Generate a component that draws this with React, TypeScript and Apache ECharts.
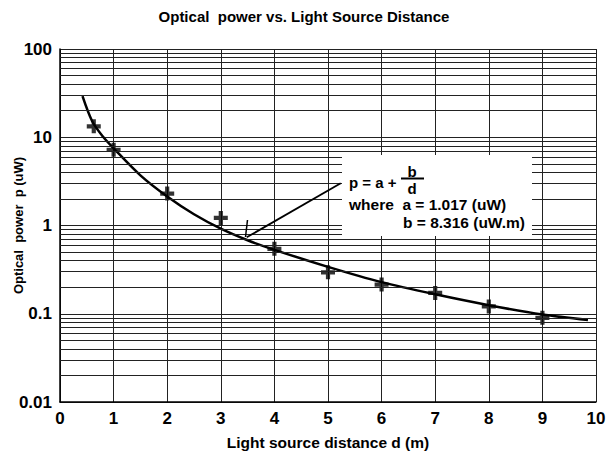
import React, { useEffect, useRef } from "react";
import * as echarts from "echarts";

const titleText = "Optical  power vs. Light Source Distance";
const xAxisName = "Light source distance d (m)";
const yAxisName = "Optical  power  p (uW)";

const measuredD = [0.63, 1.0, 2.0, 3.0, 4.0, 5.0, 6.0, 7.0, 8.0, 9.0];
const measuredP = [13.3, 7.2, 2.3, 1.22, 0.544, 0.295, 0.214, 0.172, 0.121, 0.09];

const curveD = [0.42, 0.6, 0.8, 1.0, 1.5, 2.0, 2.5, 3.0, 3.5, 4.0, 5.0, 6.0, 7.0, 8.0, 9.0, 9.85];
const curveP = [29.2, 15.2, 10.2, 7.5, 3.7, 2.13, 1.34, 0.92, 0.68, 0.53, 0.34, 0.228, 0.166, 0.125, 0.098, 0.085];

const minorValues = [
  0.02, 0.03, 0.04, 0.05, 0.06, 0.07, 0.08, 0.09,
  0.2, 0.3, 0.4, 0.5, 0.6, 0.7, 0.8, 0.9,
  2, 3, 4, 5, 6, 7, 8, 9,
  20, 30, 40, 50, 60, 70, 80, 90,
];

const FONT = "Liberation Sans, Arial, sans-serif";
const PLUS = "path://M3.5,0h3v3.5h3.5v3h-3.5v3.5h-3v-3.5h-3.5v-3h3.5z";

export default function App() {
  const ref = useRef<HTMLDivElement>(null);
  useEffect(() => {
    if (!ref.current) return;
    const chart = echarts.init(ref.current, null, { renderer: "svg" });
    chart.setOption({
      animation: false,
      backgroundColor: "#fff",
      title: {
        text: titleText,
        left: "center",
        top: 4,
        textStyle: { fontFamily: FONT, fontSize: 15, fontWeight: "bold", color: "#000" },
      },
      grid: { left: 60, right: 12, top: 49, bottom: 52, containLabel: false, outerBoundsMode: "none" },
      xAxis: {
        type: "value",
        min: 0,
        max: 10,
        interval: 1,
        name: xAxisName,
        nameLocation: "middle",
        nameGap: 32,
        nameMoveOverlap: false,
        nameTextStyle: { fontFamily: FONT, fontSize: 15.5, fontWeight: "bold", color: "#000" },
        axisLine: { lineStyle: { color: "#000", width: 1.5 } },
        axisTick: { show: false },
        axisLabel: { fontFamily: FONT, fontSize: 17, fontWeight: "bold", color: "#000", margin: 8 },
        splitLine: { show: true, lineStyle: { color: "#222", width: 1 } },
      },
      yAxis: {
        type: "log",
        logBase: 10,
        min: 0.01,
        max: 100,
        name: yAxisName,
        nameLocation: "middle",
        nameGap: 35,
        nameMoveOverlap: false,
        nameTextStyle: { fontFamily: FONT, fontSize: 13, fontWeight: "bold", color: "#000" },
        axisLine: { lineStyle: { color: "#000", width: 1.5 } },
        axisTick: { show: false },
        axisLabel: {
          fontFamily: FONT,
          fontSize: 17,
          fontWeight: "bold",
          color: "#000",
          margin: 8,
          formatter: (v: number) => String(Number(v.toPrecision(3))),
        },
        splitLine: { show: true, lineStyle: { color: "#222", width: 1 } },
      },
      series: [
        {
          type: "line",
          data: [],
          silent: true,
          z: 1,
          markLine: {
            silent: true,
            symbol: "none",
            label: { show: false },
            lineStyle: { color: "#222", width: 1, type: "solid" },
            data: minorValues.map((v) => ({ yAxis: v })),
          },
        },
        {
          type: "line",
          data: curveD.map((d, i) => [d, curveP[i]]),
          smooth: 0.3,
          showSymbol: false,
          lineStyle: { color: "#000", width: 2.5 },
          z: 3,
        },
        {
          type: "scatter",
          data: measuredD.map((d, i) => [d, measuredP[i]]),
          symbol: PLUS,
          symbolSize: 14,
          itemStyle: { color: "#000" },
          z: 4,
        },
      ],
      graphic: [
        { type: "rect", shape: { x: 342, y: 155, width: 190, height: 81 }, style: { fill: "#fff" }, z: 10 },
        { type: "line", shape: { x1: 246.7, y1: 237.3, x2: 340.7, y2: 183.3 }, style: { stroke: "#000", lineWidth: 1.8 }, z: 10 },
        { type: "line", shape: { x1: 247.5, y1: 220, x2: 245.5, y2: 237 }, style: { stroke: "#000", lineWidth: 1.5 }, z: 10 },
        {
          type: "text", x: 349, y: 182, z: 11,
          style: { text: "p = a +", font: `bold 15px ${FONT}`, fill: "#000", verticalAlign: "middle" },
        },
        {
          type: "text", x: 412, y: 171, z: 11,
          style: { text: "b", font: `bold 15px ${FONT}`, fill: "#000", align: "center", verticalAlign: "middle" },
        },
        { type: "line", shape: { x1: 401, y1: 178.5, x2: 424, y2: 178.5 }, style: { stroke: "#000", lineWidth: 2 }, z: 11 },
        {
          type: "text", x: 412, y: 188, z: 11,
          style: { text: "d", font: `bold 15px ${FONT}`, fill: "#000", align: "center", verticalAlign: "middle" },
        },
        {
          type: "text", x: 349, y: 204, z: 11,
          style: { text: "where  a = 1.017 (uW)", font: `bold 15.5px ${FONT}`, fill: "#000", verticalAlign: "middle" },
        },
        {
          type: "text", x: 403, y: 222, z: 11,
          style: { text: "b = 8.316 (uW.m)", font: `bold 15.5px ${FONT}`, fill: "#000", verticalAlign: "middle" },
        },
      ],
    });
    return () => chart.dispose();
  }, []);
  return <div ref={ref} style={{ width: 608, height: 454, position: "absolute", left: 0, top: 0 }} />;
}
